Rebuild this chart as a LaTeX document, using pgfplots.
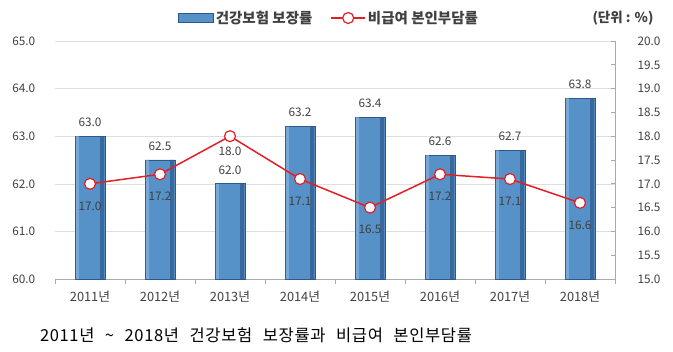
\documentclass[border=0pt]{standalone}
\usepackage{pgfplots}
\usepackage{pgfplotstable}
\pgfplotsset{compat=1.18}
\usepackage{fontspec}
\setmainfont{Noto Sans CJK KR}
\definecolor{barmain}{RGB}{86,145,200}
\definecolor{barlight}{RGB}{140,185,228}
\definecolor{bardark}{RGB}{45,88,138}
\definecolor{linered}{RGB}{228,30,38}
\definecolor{txt}{RGB}{64,64,64}
\definecolor{gridc}{RGB}{222,222,222}
\definecolor{axc}{RGB}{170,170,170}
\pgfplotsset{/pgf/number format/assume math mode=true,
  linelegend/.style={legend image code/.code={\draw[mark repeat=2, mark phase=2, ##1] plot coordinates {(0bp,0bp)(17bp,0bp)(34bp,0bp)};}},
  barlegend/.style={legend image code/.code={\draw[draw=bardark, line width=0.6bp, fill=barmain] (0bp,-4.5bp) rectangle (35bp,4.5bp);}}}
\newcommand{\tickfont}{\fontsize{11.8bp}{13bp}\selectfont}
\pgfplotstableread{
x y
0 63.0
1 62.5
2 62.0
3 63.2
4 63.4
5 62.6
6 62.7
7 63.8
}\bardata
\pgfplotstableread{
x y dy
0 17.0 -22
1 17.2 -22
2 18.0 -15
3 17.1 -22
4 16.5 -22
5 17.2 -22
6 17.1 -22
7 16.6 -22
}\linedata
\begin{document}
\begin{tikzpicture}
\useasboundingbox (-55bp,-73bp) rectangle (618bp,279bp);
\begin{axis}[
  at={(0,0)}, anchor=south west, scale only axis,
  width=560bp, height=238bp,
  xmin=-0.5, xmax=7.5, ymin=60, ymax=65,
  axis y line*=left, axis x line*=bottom,
  y axis line style={draw=none},
  x axis line style={draw=axc, line width=0.6bp, -},
  ytick={60,61,62,63,64,65},
  ytick style={draw=none},
  ymajorgrids, grid style={draw=gridc, line width=0.6bp},
  yticklabel style={font=\tickfont, color=txt, xshift=-12bp,
    /pgf/number format/.cd, fixed, fixed zerofill, precision=1},
  xtick={0,1,2,3,4,5,6,7},
  xticklabels={2011년,2012년,2013년,2014년,2015년,2016년,2017년,2018년},
  xtick style={draw=none},
  xticklabel style={font=\fontsize{12.8bp}{14bp}\selectfont, color=txt, yshift=-4bp},
  tick align=outside,
  extra x ticks={-0.5,0.5,1.5,2.5,3.5,4.5,5.5,6.5,7.5},
  extra x tick labels={},
  extra x tick style={xtick style={draw=axc, line width=0.6bp}, major tick length=5bp, grid=none},
  clip=true,
]
\addplot[ybar, bar width=30bp, bar shift=0pt, draw=bardark, line width=0.8bp, fill=barmain,
  nodes near coords={\pgfmathprintnumber[fixed,fixed zerofill,precision=1]{\pgfplotspointmeta}},
  every node near coord/.append style={font=\tickfont, color=txt, anchor=center, inner sep=0pt, yshift=14bp}]
  table[x=x, y=y] {\bardata};
\addplot[ybar, bar width=4bp, bar shift=12.2bp, draw=none, fill=bardark, fill opacity=0.7]
  table[x=x, y=y] {\bardata};
\addplot[ybar, bar width=3bp, bar shift=-12.6bp, draw=none, fill=barlight, fill opacity=0.6]
  table[x=x, y=y] {\bardata};
\end{axis}
\begin{axis}[
  at={(0,0)}, anchor=south west, scale only axis,
  width=560bp, height=238bp,
  xmin=-0.5, xmax=7.5, ymin=15, ymax=20,
  axis x line=none, axis y line*=right,
  y axis line style={draw=axc, line width=0.6bp, -},
  ytick={15,15.5,16,16.5,17,17.5,18,18.5,19,19.5,20},
  tick align=inside, major tick length=4bp,
  ytick style={draw=axc, line width=0.6bp},
  yticklabel style={font=\tickfont, color=txt, xshift=19bp,
    /pgf/number format/.cd, fixed, fixed zerofill, precision=1},
  legend style={at={(axis description cs:0.2196,1.0966)}, anchor=west,
    draw=none, fill=none, inner sep=0pt, font=\fontsize{14.5bp}{16bp}\selectfont\bfseries, text=txt,
    /tikz/every even column/.append style={column sep=16bp}},
  legend columns=2, legend cell align=left,
  clip=false,
]
\addlegendimage{barlegend}
\addlegendentry{건강보험 보장률}
\addplot[linered, line width=1.5bp, mark=*, mark size=5.5bp,
  mark options={fill=white, draw=linered, line width=1.2bp},
  linelegend,
  visualization depends on={\thisrow{dy} \as \dy},
  nodes near coords={\pgfmathprintnumber[fixed,fixed zerofill,precision=1]{\pgfplotspointmeta}},
  every node near coord/.append style={font=\tickfont, color=txt, anchor=center, inner sep=0pt, yshift=\dy bp}]
  table[x=x, y=y] {\linedata};
\addlegendentry{비급여 본인부담률}
\end{axis}
\node[font=\fontsize{13.5bp}{15bp}\selectfont\bfseries, text=txt] at (568bp,261bp) {(단위 : \%)};
\node[font=\fontsize{16.5bp}{18bp}\selectfont, text=black] at (201bp,-56bp) {\addfontfeature{LetterSpace=4}\makebox[432bp][s]{2011년 \textasciitilde{} 2018년 건강보험 보장률과 비급여 본인부담률}};
\end{tikzpicture}
\end{document}
